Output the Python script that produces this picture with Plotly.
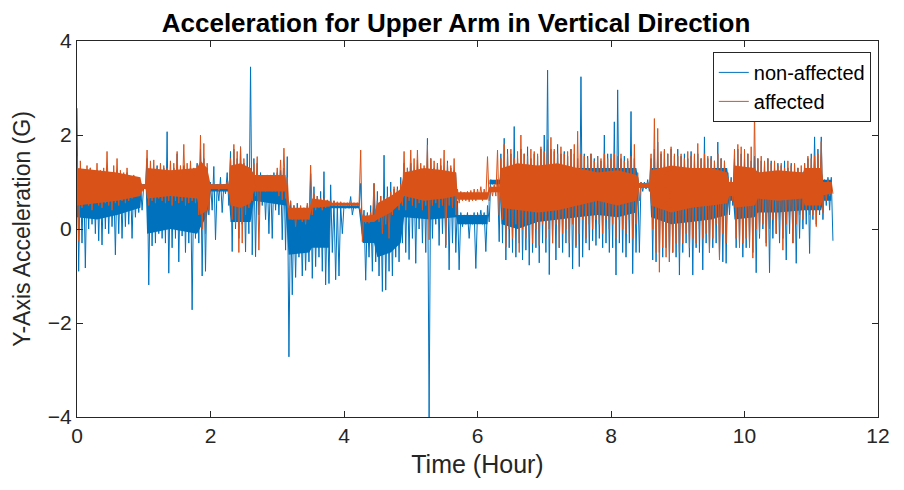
import plotly.graph_objects as go

# Bin width (hours) of the min/max readings below
BIN_H = 0.05

# non-affected arm: per-bin maximum / minimum (G)
blue_hi = [
    2.57, 1.3, 1.25, 1.2, 1.3, 1.2, 1.25, 1.15, 1.2, 1.3, 1.2, 1.1, 1.25, 1.15, 1.1, 1.2, 1.1, 1.05, 1.0, 1.0,
    0.95, 1.5, 1.3, 1.2, 1.35, 1.2, 1.3, 2.07, 1.25, 1.3, 1.6, 1.2, 1.35, 1.25, 1.3, 1.2, 1.4, 1.7, 1.5, 1.3,
    1.0, 1.33, 0.95, 1.1, 0.95, 1.2, 1.65, 1.7, 1.5, 1.75, 1.4, 1.6, 3.45, 1.5, 1.4, 1.2, 1.1, 1.15, 1.1, 1.2,
    1.2, 1.25, 1.3, 1.54, 0.6, 0.5, 0.55, 0.4, 0.45, 0.5, 1.18, 0.9, 0.7, 0.8, 1.22, 0.6, 0.94, 0.6, 0.55, 0.5,
    0.5, 0.5, 0.69, 0.5, 0.5, 0.97, 0.4, 0.35, 0.5, 0.97, 0.8, 0.7, 1.57, 0.9, 1.0, 0.85, 0.9, 1.1, 1.4, 1.3,
    1.4, 1.2, 1.47, 1.3, 1.25, 1.93, 1.5, 1.3, 1.4, 1.35, 1.2, 1.45, 1.3, 1.25, 0.6, 0.35, 0.3, 0.35, 0.3, 0.35,
    0.35, 0.4, 0.35, 0.5, 1.05, 1.0, 1.05, 1.6, 1.93, 1.7, 1.6, 2.18, 1.5, 1.7, 1.6, 1.75, 1.5, 1.6, 1.55, 1.7,
    2.0, 3.38, 1.7, 1.65, 1.8, 1.6, 1.65, 1.55, 1.7, 1.6, 1.5, 3.24, 1.6, 1.55, 1.6, 1.5, 1.55, 1.45, 2.0, 1.6,
    1.6, 2.28, 2.96, 1.5, 1.55, 1.45, 2.5, 1.5, 1.1, 1.0, 1.0, 1.05, 1.5, 1.7, 1.85, 1.6, 1.65, 1.6, 1.7, 1.55,
    1.7, 1.55, 1.6, 1.5, 1.65, 1.55, 1.6, 1.5, 1.96, 1.5, 1.55, 1.45, 1.85, 1.5, 1.45, 1.2, 1.1, 1.5, 1.7, 1.6,
    1.5, 1.6, 1.45, 1.55, 1.5, 1.45, 1.4, 1.5, 1.45, 1.3, 1.4, 1.35, 1.45, 1.3, 1.4, 1.35, 1.3, 1.2, 1.4, 1.5,
    1.6, 1.96, 1.7, 1.96, 1.05, 1.1, 1.1,
]
blue_lo = [
    -0.9, -0.3, -0.83, 0.0, 0.1, -0.1, -0.25, -0.34, 0.0, -0.1, 0.05, -0.55, -0.1, -0.2, 0.05, 0.1, -0.2, 0.25, 0.35, 0.4,
    0.85, -1.19, -0.36, -0.3, -0.1, -0.2, -0.3, -0.94, -0.4, -0.2, -0.7, -0.15, -0.5, -0.3, -1.72, -0.2, -0.3, -1.0, -0.9, 0.3,
    0.4, -0.23, 0.6, 0.35, 0.75, 0.5, -0.48, 0.0, -0.2, 0.1, -0.49, -0.1, -0.55, -0.59, 0.3, 0.5, 0.2, -0.1, -0.2, 0.4,
    0.3, -0.23, -0.45, -2.72, -1.4, -1.03, -0.6, -1.0, -0.88, -0.7, -1.05, -0.8, -0.6, -0.9, -1.19, -1.16, -0.5, -1.08, -1.0, -0.1,
    0.44, 0.44, 0.3, 0.44, 0.44, -0.1, -1.09, -0.6, -0.9, -0.7, -1.0, -1.33, -1.3, -0.9, -1.0, -0.6, -0.7, -0.3, -0.5, -0.65,
    -0.2, -0.73, 0.0, -0.3, -0.5, -4.0, -0.2, 0.1, -0.35, -0.1, -0.4, -0.87, -0.3, -0.5, -0.87, 0.05, 0.1, -0.2, 0.1, -0.84,
    0.15, 0.1, -0.48, 0.15, 0.95, 0.95, -0.27, -0.3, -0.66, -0.4, -0.5, -0.6, -0.3, -0.66, -0.45, -0.77, -0.5, -0.4, -0.72, -0.3,
    -0.5, -0.97, -0.3, -0.66, -0.4, -0.5, -0.3, -0.6, -0.85, -0.4, -0.8, -0.6, -0.3, -0.45, -0.25, -0.35, -0.2, -0.4, -0.3, -0.5,
    -0.4, -0.98, -0.3, -0.5, -0.6, -0.3, -0.95, -0.5, -0.5, 0.8, 0.85, 0.8, -0.66, -0.7, -0.5, -0.6, -0.4, -0.7, -0.5, -0.6,
    -0.98, -0.5, -0.3, -0.6, -0.98, -0.4, -0.5, -0.87, -0.3, -0.5, -0.4, -0.3, -0.6, -0.7, -0.73, 0.3, 0.5, -0.4, -0.3, -0.6,
    -0.4, -0.3, -0.5, -0.93, -0.2, 0.0, -0.3, -0.93, -0.2, -0.1, -0.3, -0.2, -0.66, -0.1, -0.3, -0.73, -0.2, 0.0, 0.1, -0.52,
    0.2, 0.1, 0.3, 0.2, 0.5, 0.4, -0.25,
]

# affected arm: per-bin maximum / minimum (G)
orange_hi = [
    1.55, 1.45, 1.2, 1.35, 1.3, 1.15, 1.4, 1.25, 1.3, 1.65, 1.2, 1.35, 1.5, 1.25, 1.2, 1.3, 1.1, 1.15, 1.05, 1.0,
    0.95, 1.68, 1.45, 1.47, 1.3, 1.4, 1.35, 1.3, 1.45, 1.4, 1.65, 1.35, 1.8, 1.4, 1.45, 1.3, 1.35, 2.0, 1.82, 1.4,
    0.95, 0.95, 0.92, 0.95, 0.95, 1.0, 1.5, 1.8, 1.65, 1.75, 1.5, 1.3, 1.2, 1.4, 1.54, 1.1, 1.1, 1.05, 1.15, 1.1,
    1.3, 1.47, 1.72, 1.1, 0.6, 0.5, 0.45, 0.5, 0.45, 0.55, 1.36, 0.75, 0.7, 0.65, 0.65, 0.62, 0.6, 0.6, 0.58, 0.58,
    0.56, 0.56, 0.56, 0.56, 0.56, 1.68, 0.3, 0.3, 0.35, 0.97, 0.6, 0.7, 0.65, 0.7, 0.79, 0.9, 0.85, 0.95, 1.65, 1.3,
    1.68, 1.5, 1.68, 1.4, 1.35, 1.79, 1.5, 1.45, 1.4, 1.5, 1.68, 1.4, 1.35, 1.5, 0.85, 0.8, 0.78, 0.8, 0.82, 0.85,
    0.85, 0.9, 0.85, 1.54, 0.9, 0.95, 1.68, 1.5, 1.8, 1.6, 1.7, 1.5, 1.65, 2.0, 1.6, 1.55, 1.7, 1.65, 1.6, 1.75,
    1.65, 1.9, 1.95, 1.7, 1.6, 1.75, 1.6, 1.65, 1.7, 1.8, 2.08, 1.6, 1.55, 1.5, 1.6, 1.45, 1.55, 1.5, 1.6, 1.5,
    1.5, 1.6, 1.55, 1.6, 1.45, 1.5, 1.55, 1.8, 1.2, 1.0, 0.98, 1.0, 1.6, 2.35, 2.14, 1.65, 1.7, 1.6, 1.75, 1.6,
    1.55, 1.6, 1.5, 1.65, 1.55, 1.6, 1.82, 1.5, 1.6, 1.55, 1.5, 1.45, 1.6, 1.5, 1.45, 1.1, 1.05, 1.7, 1.8, 1.75,
    1.7, 1.6, 1.75, 2.53, 1.5, 1.55, 1.45, 1.5, 1.4, 1.45, 1.35, 1.4, 1.3, 1.45, 1.35, 1.4, 1.3, 1.35, 1.4, 1.55,
    1.5, 1.55, 1.6, 1.86, 1.0, 1.05, 1.0,
]
orange_lo = [
    -0.25, 0.45, 0.55, 0.5, 0.4, 0.55, 0.5, 0.45, 0.55, 0.5, 0.4, 0.55, 0.5, 0.6, 0.55, 0.6, 0.65, 0.7, 0.75, 0.8,
    0.85, 0.5, 0.6, 0.55, 0.65, 0.6, 0.55, 0.6, 0.5, 0.6, 0.55, 0.6, 0.5, 0.55, 0.6, 0.55, 0.3, 0.0, -0.1, 0.4,
    0.85, 0.85, 0.82, 0.85, 0.85, 0.75, 0.2, 0.1, -0.5, -0.3, 0.3, 0.45, 0.6, 0.7, -0.45, 0.85, 0.8, 0.85, 0.8, 0.8,
    0.7, 0.62, 0.65, 0.4, 0.2, 0.05, 0.2, 0.15, 0.1, 0.2, 0.3, 0.4, 0.45, 0.4, 0.45, 0.48, 0.5, 0.5, 0.5, 0.5,
    0.5, 0.5, 0.5, 0.5, 0.5, -0.27, 0.12, 0.12, 0.15, 0.2, 0.15, -0.1, 0.1, -0.2, 0.3, 0.5, 0.4, 0.5, 0.4, 0.6,
    0.5, 0.45, 0.55, 0.4, 0.5, -0.23, 0.5, 0.55, 0.45, 0.5, -0.34, 0.5, 0.45, 0.3, 0.55, 0.6, 0.6, 0.58, 0.6, 0.6,
    0.65, 0.6, 0.65, 0.6, 0.7, 0.7, 0.3, 0.2, -0.38, 0.0, -0.2, 0.1, -0.5, 0.0, -0.2, 0.1, -0.3, 0.0, -0.35, 0.1,
    -0.2, 0.0, -0.3, 0.1, -0.4, -0.1, 0.0, -0.3, 0.1, -0.35, -0.1, 0.2, -0.2, 0.1, 0.0, 0.2, 0.1, -0.1, 0.2, 0.0,
    0.1, -0.2, 0.2, 0.0, -0.1, 0.2, -0.2, 0.1, 0.6, 0.88, 0.9, 0.85, 0.0, -0.5, -0.92, -0.4, -0.6, -0.7, -0.5, -0.3,
    -0.5, -0.3, -0.1, -0.4, -0.2, -0.3, 0.0, -0.2, -0.1, -0.5, -0.2, 0.1, -0.66, -0.1, -0.3, 0.5, 0.6, -0.2, -0.4, -0.3,
    -0.2, -0.4, -0.62, 0.0, -0.1, 0.1, -0.37, 0.0, 0.2, -0.1, 0.2, -0.45, 0.1, 0.2, -0.3, 0.1, 0.3, 0.2, 0.4, 0.3,
    0.3, 0.05, 0.4, 0.35, 0.6, 0.7, 0.75,
]

# dense "core" band of each trace (lower / upper edge)
orange_core_t = [0.00, 0.30, 0.60, 0.95, 0.97, 1.03, 1.05, 1.40, 1.80, 1.85, 1.95, 2.00, 2.27, 2.30, 2.45,
                 2.60, 2.65, 3.12, 3.17, 3.48, 3.52, 3.78, 3.80, 4.22, 4.28, 4.45, 4.50, 4.70, 4.85, 4.90,
                 5.20, 5.50, 5.68, 5.70, 6.15, 6.18, 6.33, 6.36, 6.60, 6.90, 7.20, 7.50, 7.80, 8.10, 8.38,
                 8.42, 8.58, 8.60, 8.90, 9.20, 9.50, 9.74, 9.77, 9.83, 9.85, 10.15, 10.20, 10.50, 10.88,
                 10.90, 11.15, 11.18, 11.30]
orange_core_lo = [0.5, 0.55, 0.6, 0.7, 0.85, 0.85, 0.65, 0.7, 0.65, 0.3, 0.4, 0.85, 0.85, 0.5, 0.45,
                  0.55, 0.8, 0.8, 0.2, 0.2, 0.45, 0.48, 0.5, 0.5, 0.15, 0.15, 0.2, 0.35, 0.55, 0.7,
                  0.6, 0.65, 0.7, 0.62, 0.62, 0.78, 0.78, 0.45, 0.4, 0.35, 0.4, 0.5, 0.6, 0.5, 0.6,
                  0.88, 0.88, 0.5, 0.35, 0.45, 0.5, 0.55, 0.7, 0.7, 0.45, 0.5, 0.65, 0.6, 0.65,
                  0.5, 0.5, 0.72, 0.75]
orange_core_hi = [1.3, 1.25, 1.2, 1.1, 0.95, 0.95, 1.3, 1.25, 1.3, 1.45, 1.3, 0.95, 0.95, 1.35, 1.4,
                  1.3, 1.15, 1.15, 0.45, 0.45, 0.65, 0.6, 0.56, 0.56, 0.28, 0.3, 0.55, 0.7, 0.85, 1.2,
                  1.3, 1.25, 1.2, 0.78, 0.78, 0.9, 0.9, 1.3, 1.4, 1.35, 1.4, 1.3, 1.2, 1.25, 1.15,
                  0.98, 0.98, 1.25, 1.35, 1.3, 1.3, 1.2, 1.0, 1.0, 1.35, 1.3, 1.2, 1.25, 1.2,
                  1.3, 1.3, 1.0, 1.0]

blue_core_t = [0.00, 0.30, 0.60, 0.95, 0.97, 1.03, 1.05, 1.40, 1.80, 1.95, 2.00, 2.27, 2.30, 2.60, 2.65,
               3.12, 3.17, 3.48, 3.52, 3.78, 3.80, 4.22, 4.28, 4.45, 4.50, 4.70, 4.85, 4.90, 5.30, 5.68,
               5.70, 6.15, 6.18, 6.33, 6.36, 6.60, 6.90, 7.20, 7.50, 7.80, 8.10, 8.38, 8.42, 8.58, 8.60,
               8.90, 9.20, 9.50, 9.74, 9.77, 9.83, 9.85, 10.15, 10.20, 10.50, 10.88, 10.90, 11.15, 11.18,
               11.30]
blue_core_lo = [0.25, 0.2, 0.3, 0.45, 0.85, 0.85, -0.1, 0.0, -0.1, 0.3, 0.8, 0.8, 0.15, 0.15, 0.6,
                0.5, -0.55, -0.5, -0.4, -0.4, 0.44, 0.44, -0.3, -0.3, -0.6, -0.5, -0.3, 0.25, 0.2, 0.25,
                0.1, 0.1, 0.95, 0.95, 0.1, 0.0, 0.15, 0.2, 0.25, 0.3, 0.25, 0.35, 0.88, 0.88, 0.25,
                0.1, 0.15, 0.2, 0.3, 0.6, 0.6, 0.2, 0.25, 0.35, 0.35, 0.4, 0.4, 0.4, 0.6,
                0.6]
blue_core_hi = [1.15, 1.1, 1.05, 1.0, 0.95, 0.95, 1.2, 1.2, 1.2, 1.1, 0.95, 0.95, 1.3, 1.3, 1.15,
                1.15, 0.3, 0.3, 0.6, 0.55, 0.5, 0.5, 0.25, 0.3, 0.55, 0.6, 0.7, 1.2, 1.2, 1.2,
                0.3, 0.3, 1.05, 1.05, 1.3, 1.3, 1.3, 1.3, 1.3, 1.3, 1.3, 1.3, 0.98, 0.98, 1.3,
                1.3, 1.3, 1.3, 1.3, 1.0, 1.0, 1.3, 1.25, 1.2, 1.2, 1.2, 1.25, 1.25, 1.05,
                1.05]

x_ticks = [0, 2, 4, 6, 8, 10, 12]
y_ticks = [-4, -2, 0, 2, 4]

BLUE = "#0072BD"
ORANGE = "#D95319"

assert len(blue_hi) == len(blue_lo) == len(orange_hi) == len(orange_lo)
assert len(orange_core_t) == len(orange_core_lo) == len(orange_core_hi)
assert len(blue_core_t) == len(blue_core_lo) == len(blue_core_hi)


def minmax_path(hi, lo):
    xs, ys = [], []
    for i, (h, l) in enumerate(zip(hi, lo)):
        t = i * BIN_H
        xs += [t, t + BIN_H / 2]
        ys += [h, l]
    return xs, ys


def band(t, lo, hi, color):
    return go.Scatter(x=list(t) + list(t)[::-1], y=list(hi) + list(lo)[::-1],
                      mode="lines", fill="toself", fillcolor=color,
                      line=dict(width=0, color=color), showlegend=False, hoverinfo="skip")


bx, by = minmax_path(blue_hi, blue_lo)
ox, oy = minmax_path(orange_hi, orange_lo)

fig = go.Figure()
fig.add_trace(band(blue_core_t, blue_core_lo, blue_core_hi, BLUE))
fig.add_trace(go.Scatter(x=bx, y=by, mode="lines", name="non-affected",
                         line=dict(color=BLUE, width=1.0)))
fig.add_trace(band(orange_core_t, orange_core_lo, orange_core_hi, ORANGE))
fig.add_trace(go.Scatter(x=ox, y=oy, mode="lines", name="affected",
                         line=dict(color=ORANGE, width=1.0)))

FONT = "Liberation Sans, Arial, sans-serif"
axis_common = dict(
    showline=True, linecolor="#262626", linewidth=1, mirror="ticks",
    ticks="inside", ticklen=6, tickcolor="#262626", tickwidth=1,
    showgrid=False, zeroline=False,
    tickfont=dict(family=FONT, size=21, color="#262626"),
)

fig.update_layout(
    width=896, height=482,
    margin=dict(l=69, r=26, t=33, b=73),
    paper_bgcolor="white", plot_bgcolor="white",
    title=dict(text="<b>Acceleration for Upper Arm in Vertical Direction</b>",
               x=0.5, xanchor="center", y=0.97, yanchor="middle",
               font=dict(family=FONT, size=26, color="black")),
    xaxis=dict(range=[0, 12], tickvals=x_ticks,
               title=dict(text="Time (Hour)", standoff=9,
                          font=dict(family=FONT, size=25, color="#262626")),
               **axis_common),
    yaxis=dict(range=[-4, 4], tickvals=y_ticks,
               title=dict(text="Y-Axis Acceleration (G)", standoff=10,
                          font=dict(family=FONT, size=23, color="#262626")),
               **axis_common),
    legend=dict(x=0.991, y=0.971, xanchor="right", yanchor="top",
                bgcolor="white", bordercolor="#262626", borderwidth=1,
                font=dict(family=FONT, size=20, color="black"),
                tracegroupgap=0, itemwidth=30),
    showlegend=True,
)

fig.write_html("out.html")
